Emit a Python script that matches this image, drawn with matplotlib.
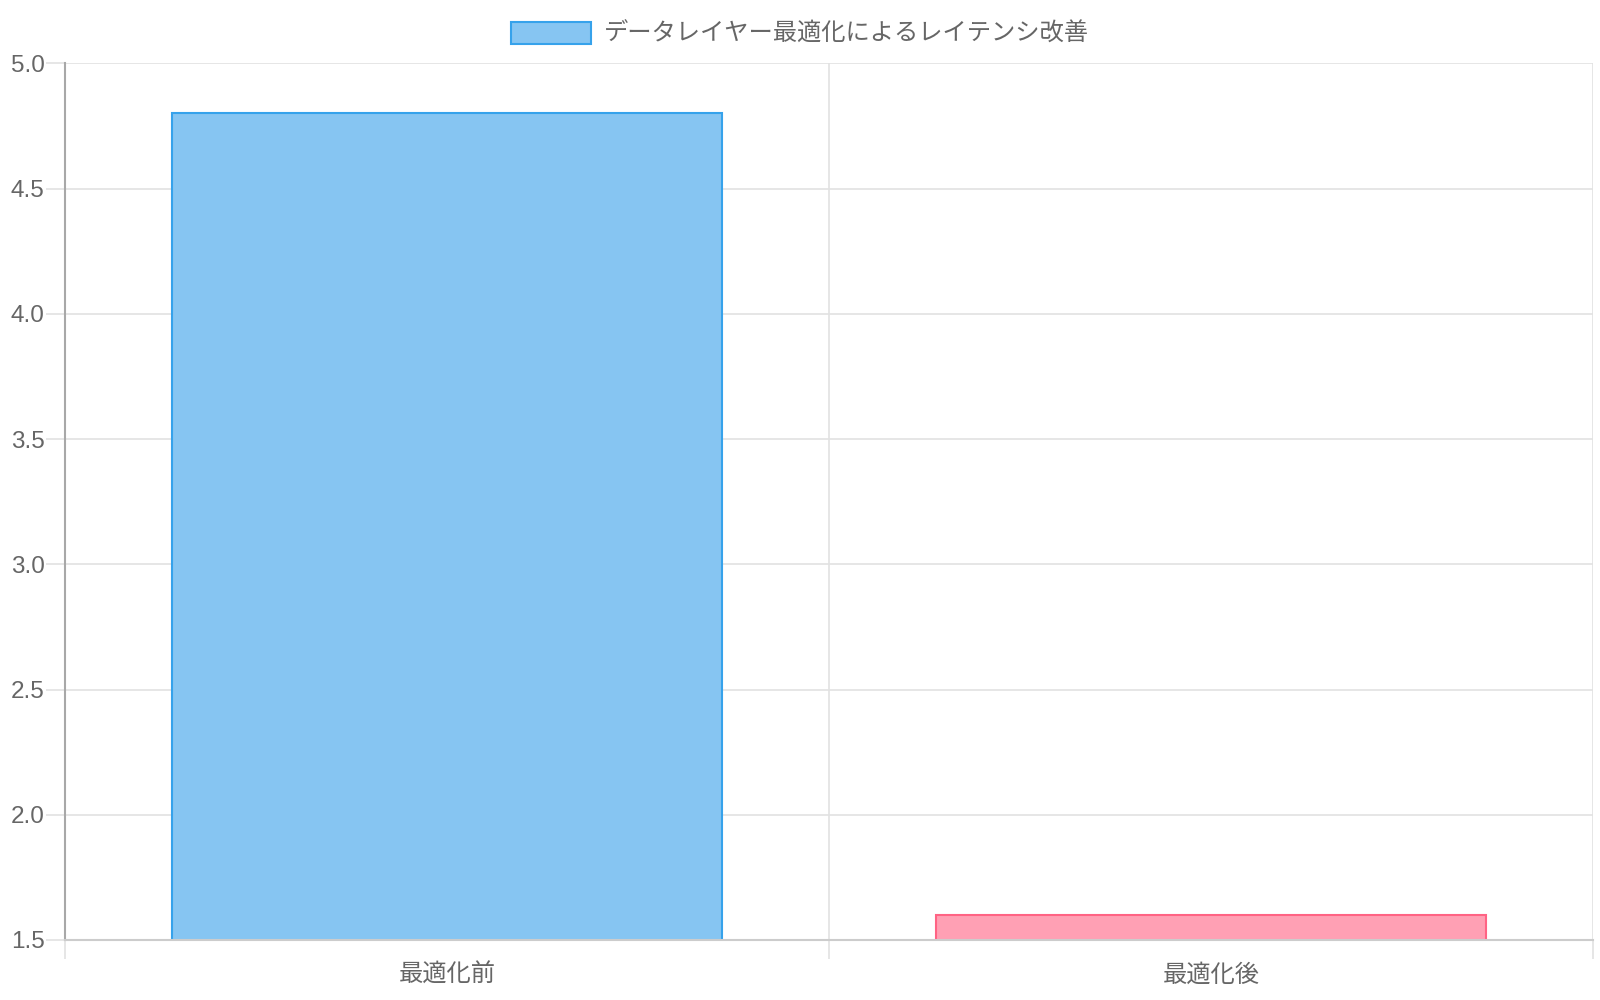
import matplotlib
matplotlib.use("Agg")
import matplotlib.pyplot as plt
from matplotlib.patches import Patch

plt.rcParams['font.family'] = ['Liberation Sans', 'Noto Sans CJK JP', 'DejaVu Sans']

categories = ['最適化前', '最適化後']
latency = [4.8, 1.6]
series_label = 'データレイヤー最適化によるレイテンシ改善'
fill_colors = ['#86c5f2', '#ffa0b4']
edge_colors = ['#36a2eb', '#ff6384']
yticks = [1.5, 2.0, 2.5, 3.0, 3.5, 4.0, 4.5, 5.0]

fig = plt.figure(figsize=(16, 10), dpi=100)
ax = fig.add_axes([0.0408, 0.060, 0.9548, 0.8767])

x = list(range(len(categories)))
ax.bar(x, latency, width=0.72, bottom=0, color=fill_colors,
       edgecolor=edge_colors, linewidth=1.5, zorder=3)

ax.set_xlim(-0.5, len(categories) - 0.5)
ax.set_ylim(1.5, 5.0)
ax.set_yticks(yticks)
ax.set_yticklabels([f'{v:.1f}' for v in yticks])
ax.set_xticks(x)
ax.set_xticklabels(categories)
ax.set_xticks([i - 0.5 for i in range(len(categories) + 1)], minor=True)

ax.grid(axis='y', color='#e2e2e2', linewidth=1.2, zorder=0)
ax.grid(axis='x', which='minor', color='#e2e2e2', linewidth=1.2, zorder=0)
ax.tick_params(axis='y', length=14, width=1.2, color='#e2e2e2',
               labelsize=17.5, labelcolor='#666666', pad=1)
ax.tick_params(axis='x', which='major', length=0, labelsize=17.5,
               labelcolor='#666666', pad=17)
ax.tick_params(axis='x', which='minor', length=14, width=1.2, color='#e2e2e2')

for side in ['top', 'right']:
    ax.spines[side].set_visible(False)
ax.spines['left'].set_color('#a8a8a8')
ax.spines['left'].set_linewidth(1.5)
ax.spines['bottom'].set_color('#cccccc')
ax.spines['bottom'].set_linewidth(1.5)
ax.spines['left'].set_zorder(4)
ax.spines['bottom'].set_zorder(4)

handle = Patch(facecolor=fill_colors[0], edgecolor=edge_colors[0], linewidth=1.5)
fig.legend([handle], [series_label], loc='center', bbox_to_anchor=(0.5, 0.966),
           frameon=False, fontsize=17.5, labelcolor='#666666',
           handlelength=3.3, handleheight=1.0, handletextpad=0.55)

fig.savefig('out.png', dpi=100, facecolor='white')
